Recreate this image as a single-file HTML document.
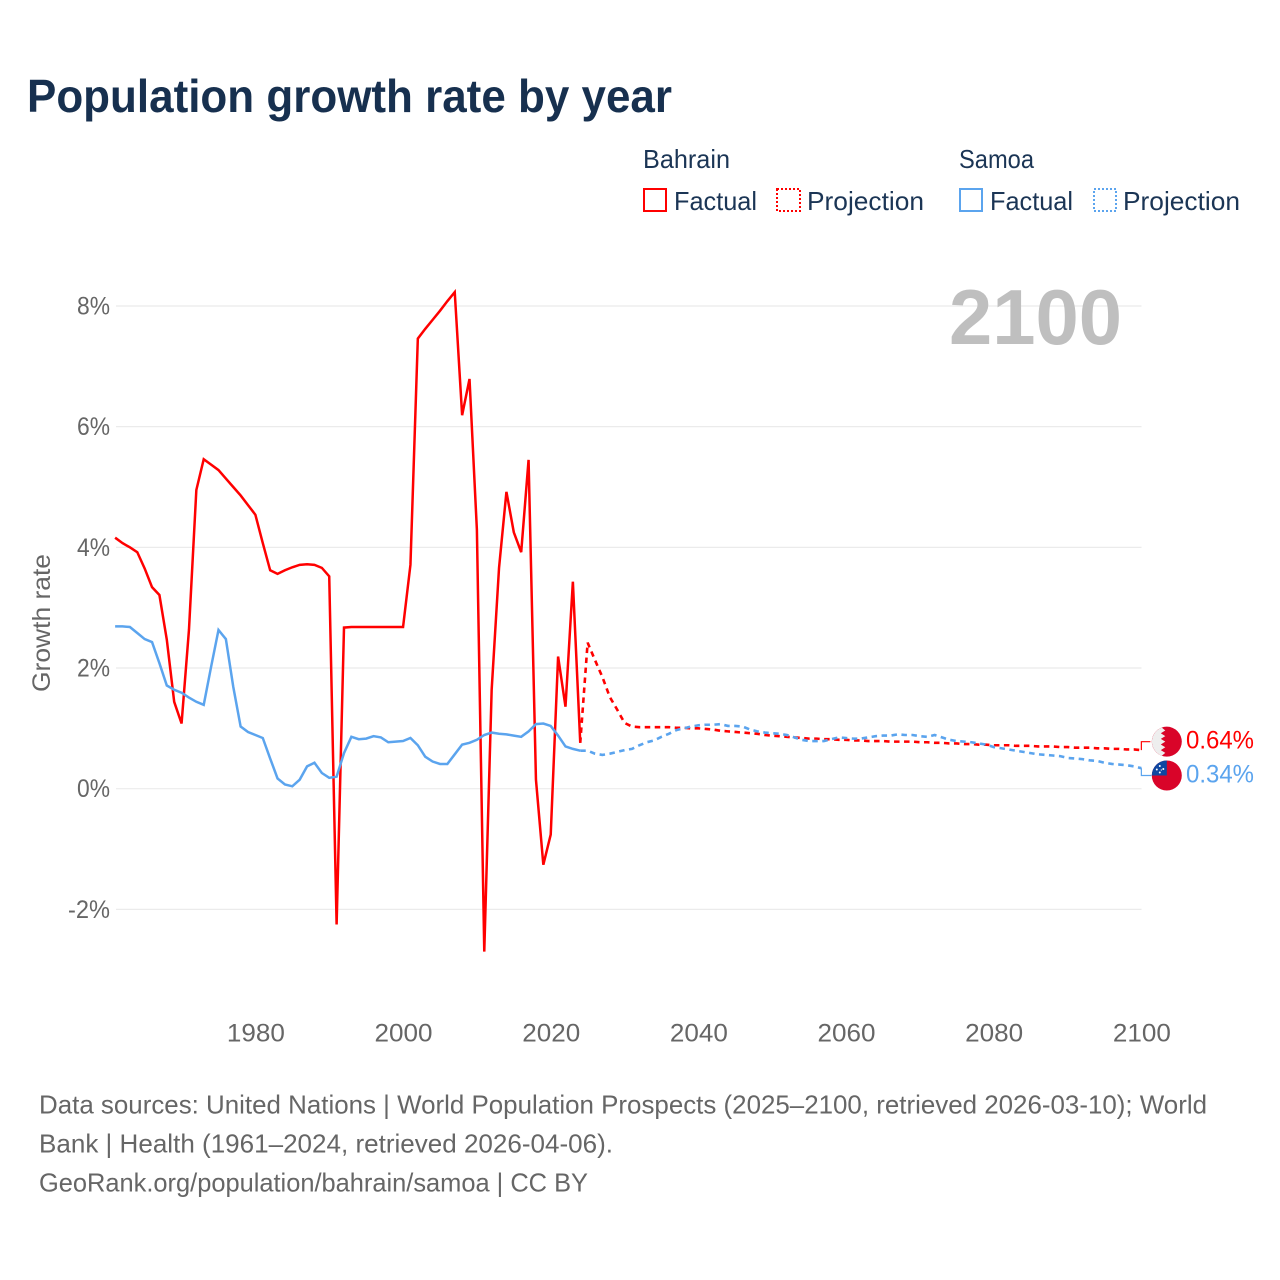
<!DOCTYPE html>
<html lang="en">
<head>
<meta charset="utf-8">
<title>Population growth rate by year</title>
<style>
html,body{margin:0;padding:0;background:#fff;}
svg{display:block;font-family:"Liberation Sans",sans-serif;}
</style>
</head>
<body>
<svg id="chart" xmlns="http://www.w3.org/2000/svg" width="1280" height="1280" viewBox="0 0 1280 1280">
  <rect x="0" y="0" width="1280" height="1280" fill="#ffffff"/>
  <text x="27" y="112" font-size="46" font-weight="700" fill="#17304f" textLength="645" lengthAdjust="spacingAndGlyphs">Population growth rate by year</text>

  <g font-size="26" fill="#1b3555">
    <text x="643" y="168" textLength="87" lengthAdjust="spacingAndGlyphs">Bahrain</text>
    <rect x="644" y="189" width="22" height="22" fill="none" stroke="#ff0000" stroke-width="2"/>
    <text x="674" y="210" textLength="83" lengthAdjust="spacingAndGlyphs">Factual</text>
    <rect x="777" y="189" width="23" height="22" fill="none" stroke="#ff0000" stroke-width="2" stroke-dasharray="2 2"/>
    <text x="807" y="210" textLength="117" lengthAdjust="spacingAndGlyphs">Projection</text>
    <text x="959" y="168" textLength="75" lengthAdjust="spacingAndGlyphs">Samoa</text>
    <rect x="960" y="189" width="22" height="22" fill="none" stroke="#5ba4ee" stroke-width="2"/>
    <text x="990" y="210" textLength="83" lengthAdjust="spacingAndGlyphs">Factual</text>
    <rect x="1094" y="189" width="22" height="22" fill="none" stroke="#5ba4ee" stroke-width="2" stroke-dasharray="2 2"/>
    <text x="1123" y="210" textLength="117" lengthAdjust="spacingAndGlyphs">Projection</text>
  </g>

  <g id="grid"></g>
  <text x="949" y="344" font-size="78" font-weight="700" fill="#bfbfbf" textLength="173" lengthAdjust="spacingAndGlyphs">2100</text>
  <g id="yticks"></g>
  <g id="xticks"></g>
  <text transform="translate(50,692) rotate(-90)" x="0" y="0" font-size="25" fill="#666666" textLength="138" lengthAdjust="spacingAndGlyphs">Growth rate</text>
  <g id="series"></g>
  <g id="ends"></g>

  <g font-size="26" fill="#666666">
    <text x="39" y="1113.5" textLength="1168" lengthAdjust="spacingAndGlyphs">Data sources: United Nations | World Population Prospects (2025–2100, retrieved 2026-03-10); World</text>
    <text x="39" y="1152.5" textLength="574" lengthAdjust="spacingAndGlyphs">Bank | Health (1961–2024, retrieved 2026-04-06).</text>
    <text x="39" y="1191.5" textLength="549" lengthAdjust="spacingAndGlyphs">GeoRank.org/population/bahrain/samoa | CC BY</text>
  </g>
</svg>
<script>
var factualStartYear = 1961;
var projectionStartYear = 2024;
var xTickYears = [1980, 2000, 2020, 2040, 2060, 2080, 2100];
var yTickValues = [8, 6, 4, 2, 0, -2];
var bahrainFactual = [4.16,4.07,4.00,3.92,3.65,3.34,3.21,2.47,1.44,1.08,2.63,4.95,5.46,5.37,5.28,5.14,5.00,4.86,4.70,4.54,4.07,3.62,3.56,3.62,3.67,3.71,3.72,3.71,3.66,3.52,-2.25,2.67,2.68,2.68,2.68,2.68,2.68,2.68,2.68,2.68,3.71,7.46,7.62,7.77,7.92,8.08,8.23,6.19,6.79,4.29,-2.70,1.64,3.66,4.92,4.25,3.92,5.45,0.15,-1.26,-0.76,2.19,1.36,3.43,0.76];
var samoaFactual = [2.69,2.69,2.68,2.58,2.48,2.43,2.08,1.71,1.64,1.59,1.51,1.44,1.39,2.02,2.63,2.48,1.69,1.03,0.94,0.89,0.84,0.50,0.17,0.07,0.04,0.15,0.37,0.43,0.26,0.18,0.20,0.59,0.86,0.82,0.83,0.87,0.85,0.77,0.78,0.79,0.84,0.72,0.53,0.45,0.41,0.41,0.57,0.73,0.76,0.81,0.89,0.93,0.91,0.90,0.88,0.86,0.95,1.07,1.08,1.04,0.88,0.70,0.66,0.63];
var bahrainProjection = [0.76,2.42,2.13,1.85,1.52,1.31,1.09,1.03,1.02,1.02,1.02,1.02,1.02,1.01,1.01,1.00,1.00,0.99,0.98,0.96,0.95,0.94,0.93,0.92,0.91,0.89,0.88,0.87,0.86,0.85,0.84,0.83,0.83,0.82,0.82,0.81,0.81,0.80,0.80,0.79,0.79,0.79,0.78,0.78,0.78,0.78,0.77,0.77,0.76,0.76,0.75,0.75,0.74,0.74,0.73,0.73,0.72,0.72,0.72,0.71,0.71,0.71,0.70,0.70,0.70,0.69,0.69,0.68,0.68,0.68,0.67,0.67,0.66,0.66,0.65,0.65,0.64];
var samoaProjection = [0.63,0.63,0.58,0.56,0.58,0.61,0.64,0.66,0.72,0.77,0.80,0.86,0.91,0.97,1.00,1.03,1.05,1.06,1.06,1.07,1.04,1.04,1.03,0.98,0.95,0.93,0.92,0.91,0.89,0.85,0.81,0.79,0.79,0.79,0.82,0.85,0.84,0.83,0.83,0.85,0.87,0.88,0.88,0.90,0.89,0.89,0.87,0.86,0.89,0.85,0.81,0.79,0.78,0.77,0.75,0.73,0.69,0.67,0.65,0.63,0.61,0.59,0.57,0.56,0.55,0.54,0.51,0.50,0.49,0.47,0.46,0.43,0.41,0.40,0.39,0.37,0.34];

var NS = 'http://www.w3.org/2000/svg';
function xScale(year) { return 255.4 + (year - 1980) * 7.383; }
function yScale(value) { return 788.7 - value * 60.34; }
function linePath(values, startYear) {
  var d = '';
  for (var i = 0; i < values.length; i++) {
    d += (i ? 'L' : 'M') + xScale(startYear + i).toFixed(2) + ' ' + yScale(values[i]).toFixed(2);
  }
  return d;
}

var grid = document.getElementById('grid');
var yticks = document.getElementById('yticks');
yTickValues.forEach(function (v) {
  var gl = document.createElementNS(NS, 'line');
  
  
  gl.setAttribute('x1', 116);
  gl.setAttribute('x2', 1141.5);
  gl.setAttribute('y1', yScale(v));
  gl.setAttribute('y2', yScale(v));
  gl.setAttribute('stroke', '#ebebeb');
  gl.setAttribute('stroke-width', 1.2);
  grid.appendChild(gl);
  var t = document.createElementNS(NS, 'text');
  
  
  var label = v + '%';
  var w = v < 0 ? 42 : 33;
  t.setAttribute('x', 110 - w);
  t.setAttribute('y', yScale(v) + 8.5);
  t.setAttribute('font-size', 25);
  t.setAttribute('fill', '#666666');
  t.setAttribute('textLength', w);
  t.setAttribute('lengthAdjust', 'spacingAndGlyphs');
  t.textContent = label;
  yticks.appendChild(t);
});

var xticks = document.getElementById('xticks');
xTickYears.forEach(function (yr) {
  var t = document.createElementNS(NS, 'text');
  
  
  t.setAttribute('x', xScale(yr) - 28.5);
  t.setAttribute('y', 1041.5);
  t.setAttribute('font-size', 25);
  t.setAttribute('fill', '#666666');
  t.setAttribute('textLength', 58);
  t.setAttribute('lengthAdjust', 'spacingAndGlyphs');
  t.textContent = String(yr);
  xticks.appendChild(t);
});

var seriesGroup = document.getElementById('series');

var samoaFactualLine = document.createElementNS(NS, 'path');


samoaFactualLine.setAttribute('d', linePath(samoaFactual, factualStartYear));
samoaFactualLine.setAttribute('fill', 'none');
samoaFactualLine.setAttribute('stroke', '#5ba4ee');
samoaFactualLine.setAttribute('stroke-width', 2.5);

var bahrainFactualLine = document.createElementNS(NS, 'path');


bahrainFactualLine.setAttribute('d', linePath(bahrainFactual, factualStartYear));
bahrainFactualLine.setAttribute('fill', 'none');
bahrainFactualLine.setAttribute('stroke', '#ff0000');
bahrainFactualLine.setAttribute('stroke-width', 2.5);

var bahrainProjectionLine = document.createElementNS(NS, 'path');


bahrainProjectionLine.setAttribute('d', linePath(bahrainProjection, projectionStartYear));
bahrainProjectionLine.setAttribute('fill', 'none');
bahrainProjectionLine.setAttribute('stroke', '#ff0000');
bahrainProjectionLine.setAttribute('stroke-width', 2.6);
bahrainProjectionLine.setAttribute('stroke-dasharray', '5.5 4.5');

var samoaProjectionLine = document.createElementNS(NS, 'path');


samoaProjectionLine.setAttribute('d', linePath(samoaProjection, projectionStartYear));
samoaProjectionLine.setAttribute('fill', 'none');
samoaProjectionLine.setAttribute('stroke', '#5ba4ee');
samoaProjectionLine.setAttribute('stroke-width', 2.6);
samoaProjectionLine.setAttribute('stroke-dasharray', '5.5 4.5');

seriesGroup.appendChild(bahrainFactualLine);
seriesGroup.appendChild(samoaFactualLine);
seriesGroup.appendChild(bahrainProjectionLine);
seriesGroup.appendChild(samoaProjectionLine);

var ends = document.getElementById('ends');
var bahrainEnd = bahrainProjection[bahrainProjection.length - 1];
var samoaEnd = samoaProjection[samoaProjection.length - 1];
var endX = xScale(2100);
var bahrainFlagY = yScale(bahrainEnd) - 8.4;
var samoaFlagY = yScale(samoaEnd) + 7.3;

var bahrainConnector = document.createElementNS(NS, 'path');


bahrainConnector.setAttribute('d', 'M' + endX + ' ' + yScale(bahrainEnd) + 'V' + bahrainFlagY + 'H' + (endX + 9));
bahrainConnector.setAttribute('fill', 'none');
bahrainConnector.setAttribute('stroke', '#ff0000');
bahrainConnector.setAttribute('stroke-width', 1.2);
ends.appendChild(bahrainConnector);

var samoaConnector = document.createElementNS(NS, 'path');


samoaConnector.setAttribute('d', 'M' + endX + ' ' + yScale(samoaEnd) + 'V' + samoaFlagY + 'H' + (endX + 10));
samoaConnector.setAttribute('fill', 'none');
samoaConnector.setAttribute('stroke', '#5ba4ee');
samoaConnector.setAttribute('stroke-width', 1.2);
ends.appendChild(samoaConnector);

var flagX = 1166.8;
var bahrainFlag = document.createElementNS(NS, 'g');


bahrainFlag.setAttribute('transform', 'translate(' + flagX + ',' + bahrainFlagY + ')');
bahrainFlag.innerHTML = '<circle r="15" fill="#d90429"/><path d="M-5 -14.1 L-1.5 -11.2 L-6 -8.4 L-1.5 -5.6 L-6 -2.8 L-1.5 0 L-6 2.8 L-1.5 5.6 L-6 8.4 L-1.5 11.2 L-5 14.1 A15 15 0 0 1 -5 -14.1Z" fill="#eeeeee"/>';
ends.appendChild(bahrainFlag);

var samoaFlag = document.createElementNS(NS, 'g');


samoaFlag.setAttribute('transform', 'translate(' + flagX + ',' + samoaFlagY + ')');
samoaFlag.innerHTML = '<circle r="15" fill="#d90429"/><path d="M0 0 H-15 A15 15 0 0 1 0 -15Z" fill="#0f47a1"/><circle cx="-7" cy="-9.5" r="1" fill="#fff"/><circle cx="-3.5" cy="-6.5" r="1" fill="#fff"/><circle cx="-10" cy="-6" r="1" fill="#fff"/><circle cx="-7" cy="-3" r="1" fill="#fff"/><circle cx="-5.5" cy="-5.5" r="0.6" fill="#fff"/>';
ends.appendChild(samoaFlag);

var bahrainValueLabel = document.createElementNS(NS, 'text');


bahrainValueLabel.setAttribute('x', 1186);
bahrainValueLabel.setAttribute('y', bahrainFlagY + 7);
bahrainValueLabel.setAttribute('font-size', 25);
bahrainValueLabel.setAttribute('fill', '#ff0000');
bahrainValueLabel.setAttribute('textLength', 68);
bahrainValueLabel.setAttribute('lengthAdjust', 'spacingAndGlyphs');
bahrainValueLabel.textContent = bahrainEnd.toFixed(2) + '%';
ends.appendChild(bahrainValueLabel);

var samoaValueLabel = document.createElementNS(NS, 'text');


samoaValueLabel.setAttribute('x', 1186);
samoaValueLabel.setAttribute('y', samoaFlagY + 7);
samoaValueLabel.setAttribute('font-size', 25);
samoaValueLabel.setAttribute('fill', '#5ba4ee');
samoaValueLabel.setAttribute('textLength', 68);
samoaValueLabel.setAttribute('lengthAdjust', 'spacingAndGlyphs');
samoaValueLabel.textContent = samoaEnd.toFixed(2) + '%';
ends.appendChild(samoaValueLabel);
</script>
</body>
</html>
